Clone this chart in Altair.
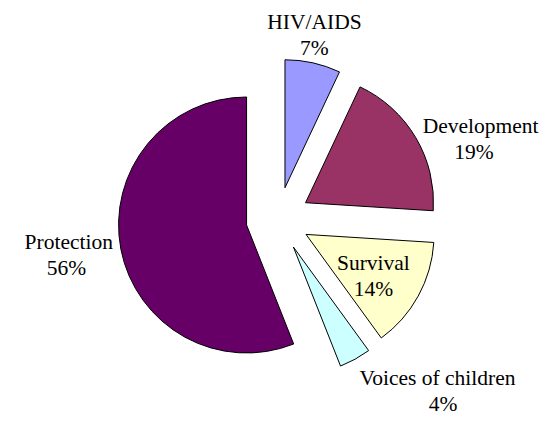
import altair as alt
import pandas as pd

# ---- data ----
categories = ["HIV/AIDS", "Development", "Survival", "Voices of children", "Protection"]
shares = [7, 19, 14, 4, 56]
colors = ["#9999FF", "#993366", "#FFFFCC", "#CCFFFF", "#660066"]
inside_labels = ["Survival"]

# ---- layout / style ----
W, H = 531, 407
CX, CY = 270, 211      # pie centre (px)
R = 128                # pie radius
EXPLODE = 32           # explosion distance of every slice
GAP = 7                # gap between exploded arc and outside label
HPAD = 1               # extra horizontal pad for side labels
INSIDE_F = 0.6         # inside label radius fraction
LH = 26                # label line height
TEXT_DY = 6            # baseline calibration
FONT = "Liberation Serif"
FS = 21.5
CHARW = 9.3            # rough average glyph width for centring 2nd line
BOTTOM_LIMIT = H - LH / 2 - TEXT_DY - 10   # keep label boxes inside the view

df = pd.DataFrame({
    "category": categories,
    "share": shares,
    "idx": list(range(len(categories))),
    "inside": [c in inside_labels for c in categories],
})

base = alt.Chart(df).transform_window(
    cum="sum(share)", sort=[alt.SortField("idx")], frame=[None, 0]
).transform_joinaggregate(
    total="sum(share)"
).transform_calculate(
    mid="2*PI*(datum.cum - datum.share/2)/datum.total",
).transform_calculate(
    s="sin(datum.mid)",
    c="cos(datum.mid)",
).transform_calculate(
    px=f"{CX} + {EXPLODE}*datum.s",
    py=f"{CY} - {EXPLODE}*datum.c",
    lr=f"datum.inside ? {EXPLODE} + {INSIDE_F}*{R} : {R + EXPLODE + GAP}",
    hx="datum.inside ? 0 : (abs(datum.s) > 0.3 ? (datum.s > 0 ? 1 : -1) : 0)",
    vy="datum.inside ? 0 : (abs(datum.c) > 0.7 ? (datum.c > 0 ? -1 : 1) : 0)",
    pct="datum.share + '%'",
    w=f"length(datum.category) * {CHARW}",
).transform_calculate(
    ax=f"{CX} + datum.lr*datum.s + datum.hx*{HPAD}",
    ay=f"{CY} - datum.lr*datum.c",
    al="datum.hx == 1 ? 'left' : (datum.hx == -1 ? 'right' : 'center')",
).transform_calculate(
    bx="datum.ax + datum.hx*datum.w/2",
    by=f"min(datum.ay + datum.vy*{LH}, {BOTTOM_LIMIT})",
).transform_calculate(
    y1=f"datum.by - {LH}/2",
    y2=f"datum.by + {LH}/2",
)

arcs = base.mark_arc(radius=R, stroke="#000000", strokeWidth=1).encode(
    theta=alt.Theta("share:Q", stack=True),
    order=alt.Order("idx:Q"),
    x=alt.X("px:Q", scale=None),
    y=alt.Y("py:Q", scale=None),
    color=alt.Color("category:N", scale=alt.Scale(domain=categories, range=colors), legend=None),
)

layers = [arcs]
for a in ["left", "center", "right"]:
    layers.append(
        base.transform_filter(f"datum.al == '{a}'").mark_text(
            font=FONT, fontSize=FS, color="black", align=a, baseline="middle", dy=TEXT_DY
        ).encode(
            x=alt.X("ax:Q", scale=None),
            y=alt.Y("y1:Q", scale=None),
            text="category:N",
        )
    )
layers.append(
    base.mark_text(font=FONT, fontSize=FS, color="black", align="center", baseline="middle", dy=TEXT_DY).encode(
        x=alt.X("bx:Q", scale=None),
        y=alt.Y("y2:Q", scale=None),
        text="pct:N",
    )
)

chart = alt.layer(*layers).properties(
    width=W, height=H, padding=0, background="white",
    autosize=alt.AutoSizeParams(type="none"),
).configure_view(stroke=None)

chart.save("out.html", embed_options={"renderer": "svg", "actions": False})
